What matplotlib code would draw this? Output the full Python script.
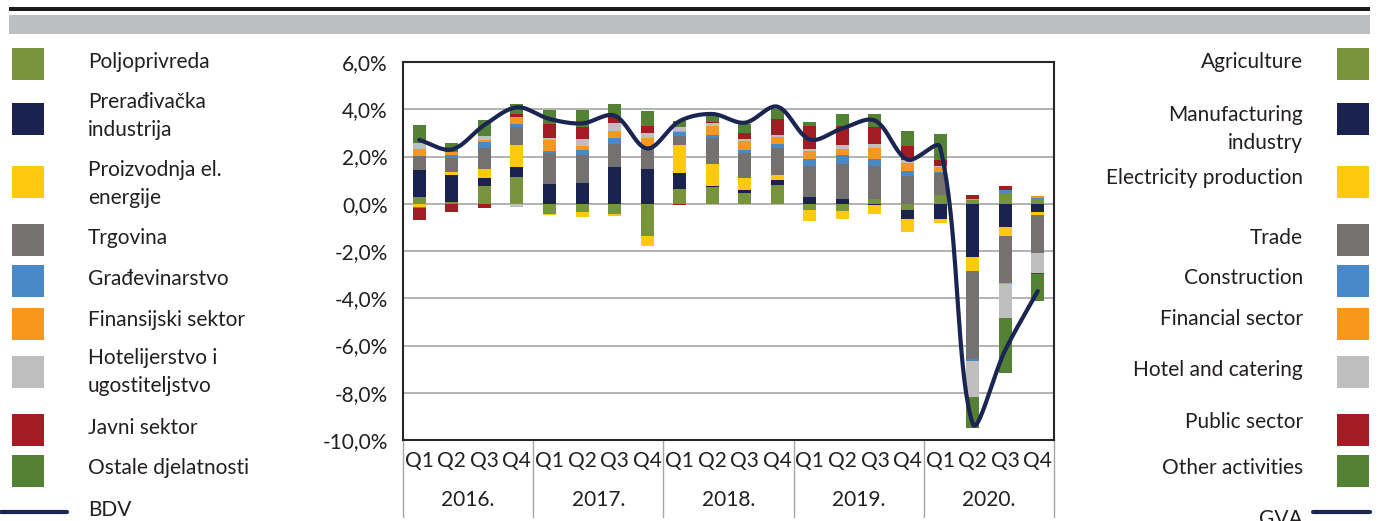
import numpy as np
import matplotlib
matplotlib.use('Agg')
import matplotlib.pyplot as plt
from matplotlib.patches import Rectangle
from matplotlib.lines import Line2D

plt.rcParams['font.family'] = ['Lato', 'DejaVu Sans']

# data (contributions to GVA growth, p.p.)
years = ['2016.', '2017.', '2018.', '2019.', '2020.']
quarters = ['Q1', 'Q2', 'Q3', 'Q4']

names_bs = ['Poljoprivreda', 'Prerađivačka\nindustrija', 'Proizvodnja el.\nenergije', 'Trgovina',
            'Građevinarstvo', 'Finansijski sektor', 'Hotelijerstvo i\nugostiteljstvo', 'Javni sektor',
            'Ostale djelatnosti']
names_en = ['Agriculture', 'Manufacturing\nindustry', 'Electricity production', 'Trade',
            'Construction', 'Financial sector', 'Hotel and catering', 'Public sector',
            'Other activities']
colors = ['#77933C', '#1A2350', '#FFC90E', '#767171', '#4A89C8', '#F7981D', '#BFBFBF', '#A21C24', '#548235']

agriculture = [0.28, 0.07, 0.74, 1.13, -0.43, -0.37, -0.45, -1.35, 0.61, 0.70, 0.44, 0.78, -0.28, -0.31, 0.21, -0.28, 0.35, 0.14, 0.45, 0.18]
manufacturing = [1.16, 1.15, 0.35, 0.43, 0.84, 0.88, 1.57, 1.45, 0.68, 0.06, 0.14, 0.23, 0.28, 0.18, -0.07, -0.35, -0.65, -2.25, -0.99, -0.35]
electricity = [-0.14, 0.11, 0.37, 0.94, -0.03, -0.21, -0.07, -0.43, 1.18, 0.91, 0.52, 0.21, -0.47, -0.34, -0.35, -0.58, -0.15, -0.61, -0.39, -0.11]
trade = [0.57, 0.60, 0.91, 0.75, 1.29, 1.18, 0.96, 0.82, 0.40, 1.13, 1.05, 1.13, 1.32, 1.52, 1.39, 1.19, 0.94, -3.73, -1.99, -1.62]
construction = [-0.04, 0.13, 0.24, 0.13, 0.11, 0.21, 0.26, 0.04, 0.18, 0.11, 0.11, 0.18, 0.30, 0.35, 0.30, 0.21, 0.04, -0.06, 0.15, 0.07]
financial = [0.30, 0.11, 0.07, 0.31, 0.45, 0.18, 0.30, 0.47, 0.02, 0.38, 0.40, 0.30, 0.33, 0.26, 0.47, 0.33, 0.21, 0.04, -0.04, 0.08]
hotel = [0.27, 0.02, 0.20, -0.14, 0.11, 0.28, 0.34, 0.23, 0.18, 0.13, 0.06, 0.07, 0.09, 0.17, 0.18, 0.11, 0.04, -1.55, -1.41, -0.85]
public = [-0.50, -0.37, -0.18, 0.10, 0.58, 0.50, 0.26, 0.28, -0.07, 0.02, 0.26, 0.67, 0.98, 0.79, 0.68, 0.61, 0.28, 0.21, 0.15, -0.06]
other = [0.74, 0.38, 0.65, 0.43, 0.58, 0.74, 0.54, 0.65, 0.27, 0.27, 0.40, 0.44, 0.16, 0.51, 0.55, 0.65, 1.08, -1.31, -2.34, -1.13]
gva = [2.7, 2.3, 3.33, 4.08, 3.59, 3.40, 3.73, 2.34, 3.5, 3.8, 3.43, 4.11, 2.72, 3.19, 3.52, 1.87, 2.39, -9.3, -6.2, -3.7]

series = [agriculture, manufacturing, electricity, trade, construction, financial, hotel, public, other]

W, H = 1381, 521
FS = 15
TXT = '#231F20'

def fx(px):
    return px / W
def fy(py):
    return 1 - py / H

fig = plt.figure(figsize=(W / 100, H / 100), dpi=100)

# header strip
fig.add_artist(Rectangle((fx(9), fy(11)), fx(1361), 4 / H, transform=fig.transFigure, color='#1A1A1A', lw=0))
fig.add_artist(Rectangle((fx(9), fy(34)), fx(1361), 19 / H, transform=fig.transFigure, color='#BCBEC0', lw=0))

ax = fig.add_axes([fx(403), fy(440), (1054 - 403) / W, (440 - 62) / H])

x = np.arange(len(gva))
pos = np.zeros(len(x))
neg = np.zeros(len(x))
for vals, c in zip(series, colors):
    v = np.array(vals)
    base = np.where(v >= 0, pos, neg)
    ax.bar(x, v, 0.4, bottom=base, color=c, zorder=2)
    pos = pos + np.clip(v, 0, None)
    neg = neg + np.clip(v, None, 0)

# smoothed line like Excel (bezier in screen proportions)
sx, sy = 32.55, 23.6
P = np.column_stack([x * sx, np.array(gva) * sy])
curve = []
t = np.linspace(0, 1, 40)[:, None]
for i in range(len(P) - 1):
    p0, p1 = P[i], P[i + 1]
    pm = P[i - 1] if i > 0 else p0
    pn = P[i + 2] if i + 2 < len(P) else p1
    d01 = np.hypot(*(p1 - p0))
    dm = np.hypot(*(p0 - pm))
    dn = np.hypot(*(pn - p1))
    c1 = p0 + (p1 - pm) * d01 / (dm + d01) / 3
    c2 = p1 - (pn - p0) * d01 / (d01 + dn) / 3
    seg = (1 - t) ** 3 * p0 + 3 * (1 - t) ** 2 * t * c1 + 3 * (1 - t) * t ** 2 * c2 + t ** 3 * p1
    curve.append(seg)
curve = np.vstack(curve)
ax.plot(curve[:, 0] / sx, curve[:, 1] / sy, color='#1B2552', lw=3, zorder=3, solid_capstyle='round')

ax.set_xlim(-0.5, len(x) - 0.5)
ax.set_ylim(-10, 6)
yt = np.arange(-10, 7, 2)
ax.set_yticks(yt)
ax.set_yticklabels([f'{v:.1f}%'.replace('.', ',') for v in yt], fontsize=FS, color=TXT)
ax.set_xticks(x)
ax.set_xticklabels(quarters * len(years), fontsize=FS, color=TXT)
ax.tick_params(axis='y', length=0, pad=11)
ax.tick_params(axis='x', length=0, pad=8)
ax.yaxis.grid(True, color='#A6A6A6', lw=1.2)
ax.set_axisbelow(True)
for s in ax.spines.values():
    s.set_color('#262626')
    s.set_linewidth(1.5)

tr = ax.get_xaxis_transform()
axh = 440 - 62
for k in range(len(years) + 1):
    b = k * 4 - 0.5
    ax.add_line(Line2D([b, b], [0, -(517 - 440) / axh], transform=tr, color='#A6A6A6', lw=1, clip_on=False))
for k, yr in enumerate(years):
    ax.text(k * 4 + 1.5, -(500 - 440) / axh, yr, transform=tr, ha='center', va='center', fontsize=FS, color=TXT)

# legends
sq_c = [64, 119, 182, 240, 281, 324, 372, 430, 471]
left_c = [62, 116, 184, 238, 279, 320, 372, 428, 468]
right_c = [62, 129, 178, 238, 278, 319, 370, 422, 468]

def put_label(xp, yc, label, ha):
    lines = label.split('\n')
    n = len(lines)
    for j, ln in enumerate(lines):
        yy = yc + (j - (n - 1) / 2) * 28
        fig.text(fx(xp), fy(yy), ln, ha=ha, va='center', fontsize=FS, color=TXT)

for c, sc, lc, rc, nb, ne in zip(colors, sq_c, left_c, right_c, names_bs, names_en):
    fig.add_artist(Rectangle((fx(12), fy(sc + 16)), 32 / W, 32 / H, transform=fig.transFigure, color=c, lw=0))
    fig.add_artist(Rectangle((fx(1337), fy(sc + 16)), 32 / W, 32 / H, transform=fig.transFigure, color=c, lw=0))
    put_label(88, lc, nb, 'left')
    put_label(1303, rc, ne, 'right')

fig.add_artist(Line2D([fx(1), fx(67)], [fy(512), fy(512)], transform=fig.transFigure, color='#1B2552', lw=3, solid_capstyle='round'))
fig.add_artist(Line2D([fx(1313), fx(1370)], [fy(512), fy(512)], transform=fig.transFigure, color='#1B2552', lw=3, solid_capstyle='round'))
put_label(88, 510, 'BDV', 'left')
put_label(1303, 519, 'GVA', 'right')

fig.savefig('out.png', dpi=100)
